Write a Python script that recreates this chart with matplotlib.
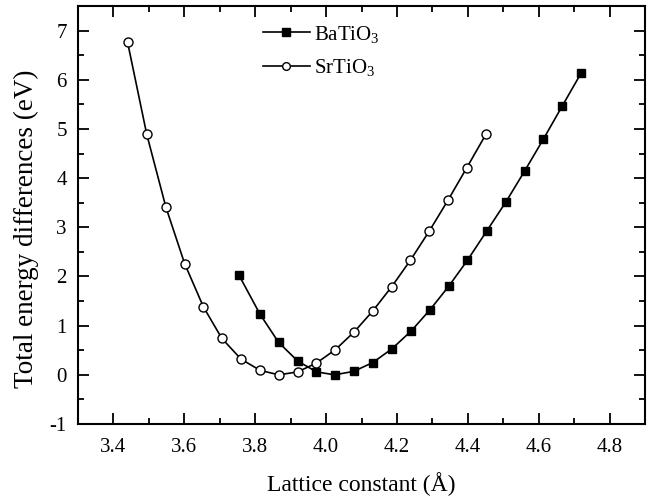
import numpy as np
import matplotlib
matplotlib.use('Agg')
import matplotlib.pyplot as plt
from matplotlib.ticker import MultipleLocator

# lattice constant (A) and total energy differences (eV)
sr_a = [3.440, 3.494, 3.548, 3.601, 3.654, 3.706, 3.760, 3.814, 3.867, 3.920,
        3.973, 4.026, 4.079, 4.132, 4.185, 4.238, 4.291, 4.344, 4.397, 4.451]
sr_e = [6.76, 4.89, 3.41, 2.26, 1.38, 0.74, 0.32, 0.09, 0.00, 0.06,
        0.24, 0.51, 0.87, 1.30, 1.79, 2.33, 2.92, 3.55, 4.21, 4.89]

ba_a = [3.754, 3.813, 3.866, 3.920, 3.973, 4.024, 4.078, 4.132, 4.186, 4.240,
        4.293, 4.346, 4.399, 4.453, 4.507, 4.560, 4.613, 4.666, 4.720]
ba_e = [2.03, 1.24, 0.66, 0.28, 0.06, 0.00, 0.07, 0.25, 0.53, 0.89,
        1.32, 1.80, 2.33, 2.92, 3.51, 4.14, 4.79, 5.46, 6.14]

plt.rcParams['font.family'] = ['Liberation Serif', 'DejaVu Serif']
plt.rcParams['mathtext.fontset'] = 'custom'
plt.rcParams['mathtext.rm'] = 'Liberation Serif'
plt.rcParams['mathtext.it'] = 'Liberation Serif:italic'
plt.rcParams['axes.unicode_minus'] = False

fig = plt.figure(figsize=(6.54, 4.97), dpi=100)
ax = fig.add_axes([78/654, 73/497, 567/654, 418/497])

ax.plot(ba_a, ba_e, '-s', color='black', lw=1.2, ms=6.3, mfc='black',
        label=r'BaTiO$_3$')
ax.plot(sr_a, sr_e, '-o', color='black', lw=1.2, ms=6.5, mfc='white',
        mew=1.0, label=r'SrTiO$_3$')

ax.set_xlim(3.3, 4.9)
ax.set_ylim(-1, 7.5)
ax.xaxis.set_major_locator(MultipleLocator(0.2))
ax.xaxis.set_minor_locator(MultipleLocator(0.1))
ax.yaxis.set_major_locator(MultipleLocator(1))
ax.yaxis.set_minor_locator(MultipleLocator(0.5))
ax.tick_params(which='both', direction='in', top=True, right=True,
               labelsize=15, width=1.3)
ax.tick_params(which='major', length=8, pad=8)
ax.tick_params(axis='x', which='major', pad=10)
ax.tick_params(which='minor', length=4.5)
for s in ax.spines.values():
    s.set_linewidth(1.5)

ax.set_xlabel('Lattice constant (Å)', fontsize=17, labelpad=11)
ax.set_ylabel('Total energy differences (eV)', fontsize=19.5, labelpad=8)
ax.yaxis.label.set_y(0.466)

ax.legend(loc='upper left', bbox_to_anchor=(0.326, 0.958), frameon=False,
          fontsize=15, handlelength=2.25, handletextpad=0.2, labelspacing=0.62,
          borderpad=0, borderaxespad=0, markerscale=0.85)

fig.savefig('out.png', dpi=100)
